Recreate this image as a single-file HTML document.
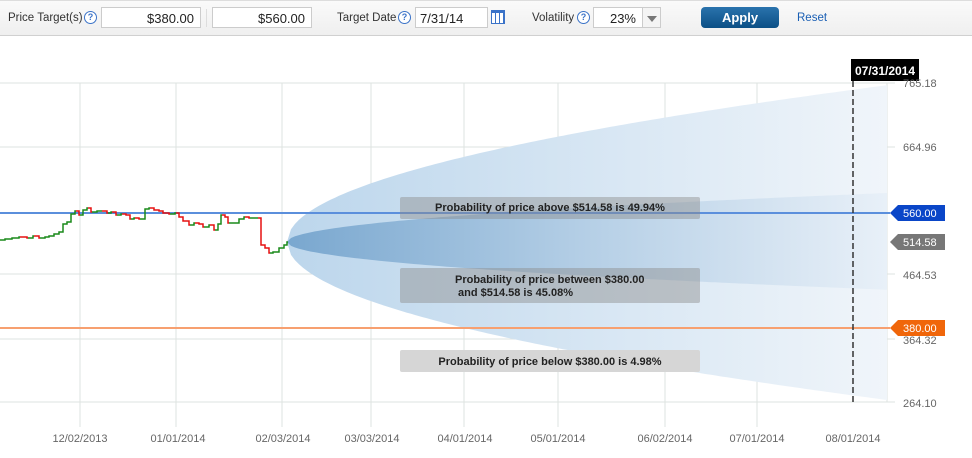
<!DOCTYPE html>
<html><head><meta charset="utf-8"><style>
body{margin:0;width:972px;height:458px;overflow:hidden;background:#fff;font-family:"Liberation Sans",Arial,sans-serif;}
.bar{position:absolute;left:0;top:0;width:972px;height:34px;background:linear-gradient(#fafafa,#efefef);border-top:1px solid #ddd;border-bottom:1px solid #d0d0d0;}
.t{position:absolute;font-size:11.5px;color:#333;top:11px;}
.q{position:absolute;top:10px;width:11px;height:11px;border:1px solid #3b73c8;border-radius:50%;color:#3b73c8;font-size:9px;line-height:11px;text-align:center;font-weight:bold;background:#fff;}
.in{position:absolute;top:6px;height:21px;background:#fff;border:1px solid #ccc;font-size:13px;color:#222;line-height:21px;box-sizing:border-box;}
</style></head><body>
<div class="bar">
<span class="t" style="left:8px">Price Target(s)</span><span class="q" style="left:84px">?</span>
<div class="in" style="left:101px;width:100px;text-align:right;padding-right:6px">$380.00</div>
<div style="position:absolute;left:206px;top:8px;width:1px;height:18px;background:#ddd"></div>
<div class="in" style="left:212px;width:100px;text-align:right;padding-right:6px">$560.00</div>
<span class="t" style="left:337px">Target Date</span><span class="q" style="left:398px">?</span>
<div class="in" style="left:415px;width:73px;padding-left:4px">7/31/14</div>
<div style="position:absolute;left:491px;top:9px;width:14px;height:14px;border:1px solid #3b73c8;box-sizing:border-box;background:repeating-linear-gradient(90deg,#fff 0 3px,#3b73c8 3px 4px);border-top:3px solid #3b73c8"></div>
<span class="t" style="left:532px">Volatility</span><span class="q" style="left:577px">?</span>
<div class="in" style="left:593px;width:50px;text-align:right;padding-right:6px">23%</div>
<div class="in" style="left:642px;width:19px;background:#f4f4f4"><div style="position:absolute;left:4px;top:8px;border-left:5px solid transparent;border-right:5px solid transparent;border-top:6px solid #777"></div></div>
<div style="position:absolute;left:701px;top:6px;width:78px;height:21px;border-radius:4px;background:linear-gradient(#2a73ad,#0b4f85);color:#fff;font-weight:bold;font-size:13px;text-align:center;line-height:21px">Apply</div>
<span class="t" style="left:797px;color:#1a5fb4">Reset</span>
</div>
<svg width="972" height="458" style="position:absolute;left:0;top:0" xmlns="http://www.w3.org/2000/svg">
<defs>
<linearGradient id="go" x1="0" x2="1"><stop offset="0" stop-color="#bcd6ec"/><stop offset="1" stop-color="#f0f5fa"/></linearGradient>
<linearGradient id="gi" x1="0" x2="1"><stop offset="0" stop-color="#79a7cf"/><stop offset="0.5" stop-color="#b5cfe6"/><stop offset="1" stop-color="#e8f0f8"/></linearGradient>
</defs>
<g stroke="#dde3e0" stroke-width="1">
<line x1="0" y1="83" x2="895" y2="83"/><line x1="0" y1="147" x2="895" y2="147"/><line x1="0" y1="274" x2="895" y2="274"/><line x1="0" y1="339" x2="895" y2="339"/><line x1="0" y1="402" x2="895" y2="402"/>
<line x1="80" y1="83" x2="80" y2="427"/><line x1="176" y1="83" x2="176" y2="427"/><line x1="282" y1="83" x2="282" y2="427"/><line x1="371" y1="83" x2="371" y2="427"/><line x1="464" y1="83" x2="464" y2="427"/><line x1="558" y1="83" x2="558" y2="427"/><line x1="665" y1="83" x2="665" y2="427"/><line x1="757" y1="83" x2="757" y2="427"/><line x1="887" y1="83" x2="887" y2="402"/>
</g>
<path id="outer" fill="url(#go)"/>
<path id="inner" fill="url(#gi)"/>
<line x1="0" y1="213" x2="890" y2="213" stroke="#5b8fdc" stroke-width="2"/>
<line x1="0" y1="328" x2="890" y2="328" stroke="#f7a070" stroke-width="2"/>
<g id="candles" stroke-width="1.5" fill="none"></g>
<rect x="400" y="197" width="300" height="22" rx="2" fill="#8c8c8c" fill-opacity="0.45"/>
<rect x="400" y="268" width="300" height="35" rx="2" fill="#8c8c8c" fill-opacity="0.45"/>
<rect x="400" y="350" width="300" height="22" rx="2" fill="#d6d6d6"/>
<g font-size="11" font-weight="bold" fill="#222" font-family="Liberation Sans,Arial,sans-serif">
<text x="550" y="211" text-anchor="middle">Probability of price above $514.58 is 49.94%</text>
<text x="455" y="283">Probability of price between $380.00</text>
<text x="458" y="296">and $514.58 is 45.08%</text>
<text x="550" y="365" text-anchor="middle">Probability of price below $380.00 is 4.98%</text>
</g>
<line x1="853" y1="81" x2="853" y2="402" stroke="#333" stroke-width="1.5" stroke-dasharray="6,3"/>
<rect x="851" y="59" width="68" height="22" fill="#000"/>
<text x="885" y="75" fill="#fff" font-size="12" font-weight="bold" text-anchor="middle">07/31/2014</text>
<g font-size="11" fill="#666">
<text x="903" y="87">765.18</text><text x="903" y="151">664.96</text><text x="903" y="279">464.53</text><text x="903" y="344">364.32</text><text x="903" y="407">264.10</text>
</g>
<polygon points="890,213 898,205 945,205 945,221 898,221" fill="#0a46c8"/>
<text x="903" y="217" fill="#fff" font-size="11">560.00</text>
<polygon points="890,242 898,234 945,234 945,250 898,250" fill="#777"/>
<text x="903" y="246" fill="#fff" font-size="11">514.58</text>
<polygon points="890,328 898,320 945,320 945,336 898,336" fill="#f0660a"/>
<text x="903" y="332" fill="#fff" font-size="11">380.00</text>
<g font-size="11" fill="#666" text-anchor="middle">
<text x="80" y="442">12/02/2013</text><text x="178" y="442">01/01/2014</text><text x="283" y="442">02/03/2014</text><text x="372" y="442">03/03/2014</text><text x="465" y="442">04/01/2014</text><text x="558" y="442">05/01/2014</text><text x="665" y="442">06/02/2014</text><text x="757" y="442">07/01/2014</text><text x="853" y="442">08/01/2014</text>
</g>
</svg>
<script>
function cone(id,ku,kd){var a=[],b=[];for(var x=287;x<=887;x+=4){var s=Math.sqrt(x-287);a.push(x+","+(242-ku*s).toFixed(1));b.unshift(x+","+(242+kd*s).toFixed(1));}
document.getElementById(id).setAttribute("d","M"+a.join(" L")+" L"+b.join(" L")+"Z");}
cone("outer",6.4,6.45);cone("inner",2.0,1.95);
var pts=[[0,240],[6,239],[13,238],[20,237],[28,238],[34,236],[40,238],[46,237],[50,236],[55,234],[60,232],[64,224],[68,222],[72,214],[76,211],[80,215],[84,210],[88,208],[92,212],[98,211],[102,211],[108,213],[112,212],[117,215],[122,214],[127,215],[131,219],[135,218],[140,219],[146,209],[150,208],[155,210],[160,211],[164,213],[170,214],[176,213],[180,217],[184,221],[190,225],[195,223],[200,224],[204,227],[210,225],[215,230],[219,224],[222,215],[226,217],[229,223],[240,219],[245,217],[250,218],[258,218],[262,245],[266,248],[270,253],[274,252],[280,248],[285,245],[288,242]];
var g=document.getElementById("candles"),h="";
for(var i=1;i<pts.length;i++){var p=pts[i-1],q=pts[i];var c=q[1]<=p[1]?"#1a8a1a":"#e51010";
h+='<path stroke="'+c+'" d="M'+p[0]+','+p[1]+' L'+(q[0]-1)+','+p[1]+' L'+(q[0]-1)+','+q[1]+' L'+q[0]+','+q[1]+'"/>';}
g.innerHTML=h;
</script>
</body></html>
